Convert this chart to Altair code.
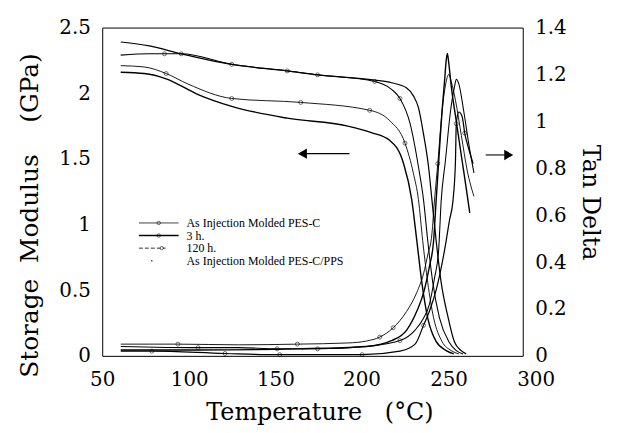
import altair as alt
import pandas as pd

series_names = ["As Injection Molded PES-C", "3  h.", "120  h.", "As Injection Molded PES-C/PPS"]

# ---- Storage modulus (GPa) vs temperature (C) ----
mod_T_1 = [61, 75, 88, 101, 127, 168, 209, 221, 230, 235, 238, 240.5, 243.5, 247, 252, 257.5, 262]
mod_E_1 = [2.21, 2.20, 2.15, 2.07, 1.96, 1.93, 1.87, 1.79, 1.62, 1.39, 1.19, 0.88, 0.56, 0.29, 0.11, 0.04, 0.015]
mod_M_1 = [0, 0, 1, 0, 1, 1, 1, 0, 1, 0, 0, 0, 0, 0, 0, 0, 0]

mod_T_2 = [61, 78, 87, 97, 127, 160, 178, 212, 222, 227, 233, 238, 241, 243.5, 246.5, 250.5, 256, 260.5, 264.5]
mod_E_2 = [2.29, 2.30, 2.30, 2.30, 2.22, 2.17, 2.14, 2.09, 2.03, 1.96, 1.77, 1.44, 1.19, 0.88, 0.56, 0.29, 0.11, 0.04, 0.015]
mod_M_2 = [0, 0, 1, 1, 1, 1, 1, 1, 0, 1, 0, 0, 0, 0, 0, 0, 0, 0, 0]

mod_T_3 = [61, 78, 97, 127, 160, 178, 212, 222, 231, 235, 238, 241, 244, 246, 248.5, 251.5, 255.5, 259.3, 263.4, 266.4]
mod_E_3 = [2.39, 2.36, 2.30, 2.22, 2.17, 2.14, 2.10, 2.08, 2.04, 1.98, 1.89, 1.69, 1.44, 1.19, 0.88, 0.56, 0.30, 0.11, 0.04, 0.015]
mod_M_3 = [0] * 20

mod_T_4 = [61, 75, 88, 107, 127, 160, 196, 210, 221, 229, 234, 237, 240, 243.5, 248.5, 254.5, 259]
mod_E_4 = [2.16, 2.15, 2.11, 1.99, 1.90, 1.81, 1.75, 1.70, 1.64, 1.47, 1.19, 0.88, 0.56, 0.29, 0.11, 0.04, 0.015]
mod_M_4 = [0] * 17

# ---- Tan delta vs temperature (C) ----
td_T_1 = [61, 95, 131, 166, 196, 207, 215, 223, 231, 237, 241, 243.5, 246, 247.5, 249.5, 252, 254.5, 256, 257.5, 260, 263.5, 267, 271]
td_V_1 = [0.05, 0.05, 0.047, 0.05, 0.055, 0.063, 0.08, 0.12, 0.19, 0.27, 0.35, 0.43, 0.52, 0.66, 0.82, 1.04, 1.17, 1.20, 1.17, 1.09, 0.94, 0.79, 0.68]
td_M_1 = [0, 1, 0, 1, 0, 0, 1, 1, 0, 0, 0, 0, 0, 0, 1, 0, 0, 0, 0, 0, 0, 0, 0]

td_T_2 = [61, 107, 131, 154, 178, 207, 227, 236, 241, 244.5, 247.5, 250, 251.5, 254, 257, 259.5, 260.5, 262, 265, 268, 271]
td_V_2 = [0.04, 0.035, 0.035, 0.03, 0.03, 0.04, 0.065, 0.11, 0.16, 0.22, 0.33, 0.45, 0.66, 0.83, 1.04, 1.15, 1.18, 1.16, 1.04, 0.90, 0.78]
td_M_2 = [0, 1, 0, 1, 1, 0, 1, 0, 0, 0, 0, 0, 0, 0, 0, 0, 0, 0, 0, 0, 0]

td_T_3 = [61, 79.5, 123, 155.5, 204.5, 227, 236, 241, 245, 248.5, 253.5, 256.5, 258.5, 260, 260.5, 262, 264, 265.5, 268, 270.5]
td_V_3 = [0.02, 0.02, 0.01, 0.005, 0.005, 0.02, 0.05, 0.13, 0.20, 0.28, 0.45, 0.58, 0.66, 0.83, 0.99, 1.04, 1.02, 0.95, 0.88, 0.82]
td_M_3 = [0, 1, 1, 1, 1, 0, 0, 1, 0, 0, 0, 0, 0, 0, 1, 0, 0, 1, 0, 0]

td_T_4 = [61, 107, 166, 207, 222, 231, 237, 241.5, 244.5, 247, 248.5, 250.5, 252, 253.5, 254.5, 255.2, 256, 257.5, 260.5, 264, 266.5, 268.5]
td_V_4 = [0.025, 0.025, 0.03, 0.04, 0.065, 0.11, 0.19, 0.28, 0.38, 0.49, 0.66, 0.88, 1.04, 1.17, 1.26, 1.29, 1.25, 1.15, 1.00, 0.83, 0.71, 0.61]
td_M_4 = [0] * 22

# ---- arrows (tail temperature, head temperature, modulus level) ----
arrow_tail_T = [197, 278]
arrow_head_T = [169, 291.7]
arrow_E = [1.54, 1.53]
arrow_shapes = ["triangle-left", "triangle-right"]

x_ticks = [50, 100, 150, 200, 250, 300]
x_label_shift = [0, 3, 5, 7, 10, 13]
mod_ticks = [0, 0.5, 1, 1.5, 2, 2.5]
td_ticks = [0, 0.2, 0.4, 0.6, 0.8, 1, 1.2, 1.4]

NB = "\u00a0"
x_title = "Temperature" + NB * 3 + "(°C)"
mod_title = "Storage" + NB * 2 + "Modulus" + NB * 4 + "(GPa)"
td_title = "Tan Delta"


def long_df(Ts, Vs, Ms):
    rows = []
    for name, t, v, m in zip(series_names, Ts, Vs, Ms):
        for a, b, c in zip(t, v, m):
            rows.append({"T": a, "val": b, "marker": c, "series": name})
    return pd.DataFrame(rows)


mod_df = long_df([mod_T_1, mod_T_2, mod_T_3, mod_T_4],
                 [mod_E_1, mod_E_2, mod_E_3, mod_E_4],
                 [mod_M_1, mod_M_2, mod_M_3, mod_M_4])
td_df = long_df([td_T_1, td_T_2, td_T_3, td_T_4],
                [td_V_1, td_V_2, td_V_3, td_V_4],
                [td_M_1, td_M_2, td_M_3, td_M_4])
arrow_df = pd.DataFrame({"tail": arrow_tail_T, "head": arrow_head_T, "E": arrow_E, "shape": arrow_shapes})

SERIF = "DejaVu Serif"
W, H = 424, 331

x_enc = alt.X(
    "T:Q",
    scale=alt.Scale(domain=[50, 300], nice=False, zero=False),
    axis=alt.Axis(
        values=x_ticks, title=x_title, grid=False, domain=False, ticks=False,
        tickSize=0, labelFont=SERIF, labelFontSize=20, labelPadding=14, labelColor="black",
        labelFlush=False,
        labelOffset={"condition": [{"test": f"datum.value == {v}", "value": o}
                                   for v, o in zip(x_ticks, x_label_shift) if o],
                     "value": 0},
        titleFont=SERIF, titleFontSize=24, titleFontWeight="normal", titleColor="black",
        titleX=219, titleY=57, titleAlign="center", titleBaseline="middle",
    ),
)

mod_axis = alt.Axis(
    values=mod_ticks, format="~g", orient="left", title=mod_title,
    grid=False, domain=False, ticks=False, tickSize=0, labelFont=SERIF, labelFontSize=20,
    labelPadding=12, labelColor="black", labelFlush=False,
    titleFont=SERIF, titleFontSize=25, titleFontWeight="normal", titleColor="black",
    titleX=-73, titleY=189, titleAngle=270, titleAlign="center", titleBaseline="middle",
)
td_axis = alt.Axis(
    values=td_ticks, format="~g", orient="right", title=td_title,
    grid=False, domain=False, ticks=False, tickSize=0, labelFont=SERIF, labelFontSize=20,
    labelPadding=12, labelColor="black", labelFlush=False,
    titleFont=SERIF, titleFontSize=24, titleFontWeight="normal", titleColor="black",
    titleX=67, titleY=176, titleAngle=90, titleAlign="center", titleBaseline="middle",
)

mod_y = alt.Y("val:Q", scale=alt.Scale(domain=[0, 2.5], nice=False), axis=mod_axis)
td_y = alt.Y("val:Q", scale=alt.Scale(domain=[0, 1.4], nice=False), axis=td_axis)

sw = alt.StrokeWidth("series:N", scale=alt.Scale(domain=series_names, range=[0.9, 1.4, 0.9, 0.85]), legend=None)


def curve_layers(df, y):
    line = alt.Chart(df).mark_line(color="black", interpolate="monotone").encode(
        x=x_enc, y=y, detail="series:N", strokeWidth=sw)
    pts = alt.Chart(df).transform_filter("datum.marker == 1").mark_point(
        shape="circle", filled=False, color="black", size=16, strokeWidth=0.8).encode(x=x_enc, y=y)
    return [line, pts]


arrow_rule = alt.Chart(arrow_df).mark_rule(color="black", strokeWidth=1.1).encode(
    x=alt.X("tail:Q"), x2="head:Q", y=alt.Y("E:Q"))
arrow_head = alt.Chart(arrow_df).mark_point(filled=True, color="black", size=110, opacity=1).encode(
    x=alt.X("head:Q"), y=alt.Y("E:Q"),
    shape=alt.Shape("shape:N", scale=None, legend=None))

# ---- legend (drawn inside the plot) ----
legend_layers = []
leg_y0, leg_dy = 197, 12.7
for i, name in enumerate(series_names):
    yy = leg_y0 + i * leg_dy
    base = alt.Chart(pd.DataFrame({"label": [name]}))
    if i < 3:
        dash = [4, 2] if i == 2 else [1, 0]
        x2 = 64 if i == 2 else 77
        legend_layers.append(base.mark_rule(color="black", strokeWidth=1.4 if i == 1 else 0.8,
                                            strokeDash=dash).encode(
            x=alt.value(37), x2=alt.value(x2), y=alt.value(yy)))
        legend_layers.append(base.mark_point(shape="circle", filled=False, color="black", size=12,
                                             strokeWidth=0.8).encode(
            x=alt.value(57 if i < 2 else 60), y=alt.value(yy)))
    else:
        legend_layers.append(base.mark_point(shape="circle", filled=True, color="black", size=3).encode(
            x=alt.value(50), y=alt.value(yy)))
    legend_layers.append(base.mark_text(align="left", baseline="middle", font="Liberation Serif",
                                        fontSize=12, color="black").encode(
        x=alt.value(85), y=alt.value(yy), text="label:N"))

mod_layer = alt.layer(*curve_layers(mod_df, mod_y), arrow_rule, arrow_head, *legend_layers)
td_layer = alt.layer(*curve_layers(td_df, td_y))

chart = alt.layer(mod_layer, td_layer).resolve_scale(y="independent").properties(
    width=W, height=H,
    autosize=alt.AutoSizeParams(type="none"),
    padding={"left": 95, "top": 18, "right": 90, "bottom": 70},
    background="white",
).configure_view(stroke="black", strokeWidth=1)

chart.save("out.html", embed_options={"renderer": "svg", "actions": False})
